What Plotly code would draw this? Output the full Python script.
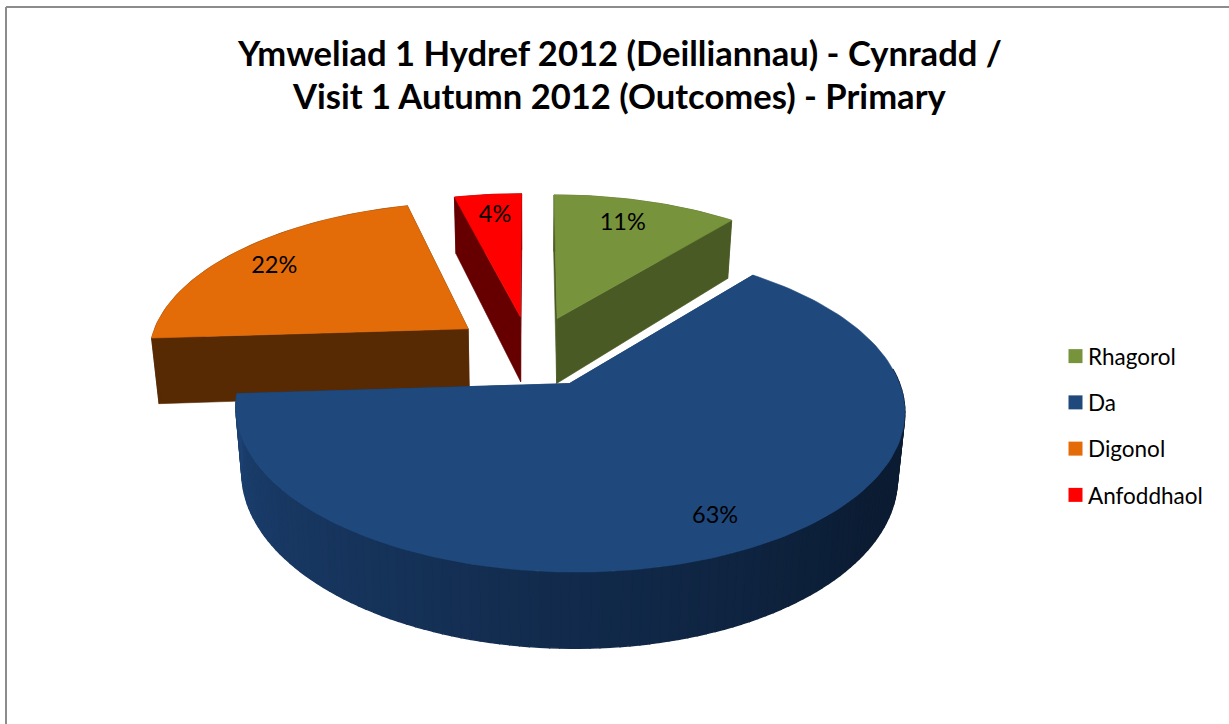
import math
import plotly.graph_objects as go

# ---- data ----
categories = ["Rhagorol", "Da", "Digonol", "Anfoddhaol"]
values = [11, 63, 22, 4]
top_colors = ["#77933C", "#1F497D", "#E36C09", "#FF0000"]
wall_colors = ["#4A5A24", "#16355C", "#582A04", "#660000"]
title_lines = ["Ymweliad 1 Hydref 2012 (Deilliannau) - Cynradd /",
               "Visit 1 Autumn 2012 (Outcomes) - Primary"]

# ---- projection of the tilted, exploded pie ----
W, H = 1229, 724
CX, CY = 534, 349      # screen position of the pie's centre
SX, SY = 320, 151.7    # horizontal and vertical radius
PERSP = 0.156          # perspective strength
DEPTH = 62             # pie thickness
BOTTOM_SCALE = 0.98    # lower face seen a little narrower
EXPLODE = 0.22
# per-slice fine adjustment: dx, dy, vertical scale, depth scale
TWEAK = {"Rhagorol": (0, 0, 1, 1.08), "Da": (2.5, 4.5, 0.98, 1),
         "Digonol": (-10, -1, 1, 1.07), "Anfoddhaol": (-5, 0, 1, 1.08)}
LABEL_SHIFT = {"Rhagorol": (-9, 4), "Da": (2, 3), "Digonol": (-4, 4), "Anfoddhaol": (2, 2)}


def project(u, v, tw=(0, 0, 1, 1), lower=False):
    s = 1 / (1 + PERSP * v)
    x, y = SX * u * s, -SY * v * s * tw[2]
    if lower:
        return CX + tw[0] + x * BOTTOM_SCALE, CY + tw[1] + y + DEPTH * tw[3] * s
    return CX + tw[0] + x, CY + tw[1] + y


def mix(c1, c2, t):
    a = [int(c1[i:i + 2], 16) for i in (1, 3, 5)]
    b = [int(c2[i:i + 2], 16) for i in (1, 3, 5)]
    return "rgb(%d,%d,%d)" % tuple(round(p + (q - p) * t) for p, q in zip(a, b))


def polygon(points, color, lw=0.6):
    xs = [p[0] for p in points] + [points[0][0]]
    ys = [p[1] for p in points] + [points[0][1]]
    return go.Scatter(x=xs, y=ys, mode="lines", fill="toself", fillcolor=color,
                      line=dict(color=color, width=lw), hoverinfo="skip",
                      showlegend=False)


total = sum(values)
slices = []
start = 0.0
for name, val, top, wall in zip(categories, values, top_colors, wall_colors):
    span = 360.0 * val / total
    mid = math.radians(start + span / 2)
    slices.append(dict(name=name, val=val, top=top, wall=wall, a0=start, a1=start + span,
                       ou=EXPLODE * math.sin(mid), ov=EXPLODE * math.cos(mid), mid=mid,
                       tw=TWEAK[name]))
    start += span

fig = go.Figure()

# Paint from the back to the front: red, green, orange, blue
for s in [slices[3], slices[0], slices[2], slices[1]]:
    ou, ov, tw = s["ou"], s["ov"], s["tw"]
    n = max(6, int((s["a1"] - s["a0"]) / 1.5))
    angs = [s["a0"] + (s["a1"] - s["a0"]) * i / n for i in range(n + 1)]
    rim = [(ou + math.sin(math.radians(a)), ov + math.cos(math.radians(a))) for a in angs]

    # radial side faces
    for edge in (rim[0], rim[-1]):
        fig.add_trace(polygon([project(ou, ov, tw), project(*edge, tw),
                               project(*edge, tw, lower=True), project(ou, ov, tw, lower=True)],
                              s["wall"]))
    # curved outer wall, in strips so that blue can carry its shading
    if s["name"] == "Da":
        for i in range(n):
            if angs[i + 1] < 85:
                continue
            p, q = rim[i], rim[i + 1]
            t = max(0.0, min(1.0, (angs[i] - 125) / (266 - 125)))
            color = mix("#0B1C33", "#1C4172", t)
            fig.add_trace(polygon([project(*p, tw), project(*q, tw),
                                   project(*q, tw, lower=True), project(*p, tw, lower=True)],
                                  color, lw=1.4))
    else:
        outer = [project(*r, tw) for r in rim] + [project(*r, tw, lower=True) for r in reversed(rim)]
        fig.add_trace(polygon(outer, s["wall"]))
    # top face
    fig.add_trace(polygon([project(ou, ov, tw)] + [project(*r, tw) for r in rim], s["top"]))

# percentage labels, placed from each slice's value
lab_x, lab_y, lab_t = [], [], []
for s in slices:
    px, py = project(s["ou"] + 0.82 * math.sin(s["mid"]), s["ov"] + 0.82 * math.cos(s["mid"]), s["tw"])
    lab_x.append(px + LABEL_SHIFT[s["name"]][0])
    lab_y.append(py + LABEL_SHIFT[s["name"]][1])
    lab_t.append(f"{s['val']}%")
fig.add_trace(go.Scatter(x=lab_x, y=lab_y, text=lab_t, mode="text", textposition="middle center",
                         textfont=dict(family="Lato", size=23.5, color="#000000"),
                         hoverinfo="skip", showlegend=False))

# legend entries
for s in slices:
    fig.add_trace(go.Scatter(x=[None], y=[None], mode="markers", name=s["name"],
                             legendgroup=s["name"],
                             marker=dict(symbol="square", size=14, color=s["top"])))

fig.update_layout(
    width=W, height=H, autosize=False,
    margin=dict(l=0, r=0, t=0, b=0),
    paper_bgcolor="white", plot_bgcolor="white",
    font=dict(family="Lato", color="#000000"),
    xaxis=dict(range=[0, W], visible=False, fixedrange=True),
    yaxis=dict(range=[H, 0], visible=False, fixedrange=True),
    legend=dict(x=1048 / W, y=1 - 335 / H, xanchor="left", yanchor="top",
                font=dict(family="Lato", size=22.5, color="#000000"),
                tracegroupgap=14, itemclick=False, itemdoubleclick=False,
                bgcolor="rgba(0,0,0,0)"),
    shapes=[
        dict(type="line", xref="x", yref="y", x0=6, x1=W + 5, y0=7, y1=7,
             line=dict(color="#8C8C8C", width=2)),
        dict(type="line", xref="x", yref="y", x0=6, x1=6, y0=7, y1=H + 5,
             line=dict(color="#8C8C8C", width=2)),
    ],
    annotations=[
        dict(text=title_lines[0], x=619.5, y=52.5, xref="x", yref="y", showarrow=False,
             font=dict(family="Lato", size=34.6, color="#000000", weight="bold")),
        dict(text=title_lines[1], x=619.5, y=95.5, xref="x", yref="y", showarrow=False,
             font=dict(family="Lato", size=34.6, color="#000000", weight="bold")),
    ],
)

post = """
document.body.style.margin='0';
function shiftSwatches(){
  document.querySelectorAll('.legendpoints').forEach(function(g){
    g.setAttribute('transform','translate(7.5,0)');
  });
}
shiftSwatches();
requestAnimationFrame(shiftSwatches);
setTimeout(shiftSwatches,50);
"""
fig.write_html("out.html", config=dict(displayModeBar=False), post_script=post)
